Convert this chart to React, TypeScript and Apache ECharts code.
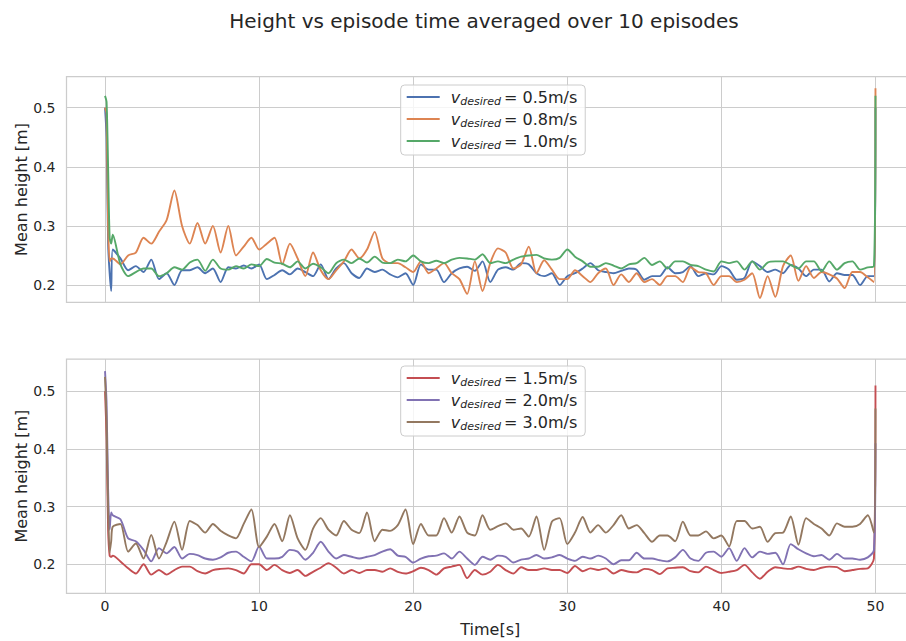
import React, { useEffect, useRef } from "react";
import * as echarts from "echarts";

// ---- time samples (s) ----
const HEAD_T = [0, 0.1, 0.2, 0.3, 0.4];
const BODY_T = Array.from({ length: 99 }, (_, i) => 0.5 + i * 0.5); // 0.5 .. 49.5
const TAIL_T = [49.9, 50];
const TIMES = [...HEAD_T, ...BODY_T, ...TAIL_T];

const X_TICKS = [0, 10, 20, 30, 40, 50];
const Y_TICKS = [0.2, 0.3, 0.4, 0.5];

// ---- top panel ----
const v05 = [
  0.50, 0.45, 0.27, 0.22, 0.19,
  0.26, 0.245, 0.225, 0.232, 0.222, 0.243, 0.21, 0.22, 0.2, 0.225,
  0.225, 0.23, 0.22, 0.228, 0.205, 0.23, 0.228, 0.233, 0.228, 0.235,
  0.21, 0.217, 0.225, 0.218, 0.228, 0.222, 0.215, 0.235, 0.21, 0.228,
  0.237, 0.22, 0.212, 0.228, 0.222, 0.226, 0.218, 0.213, 0.22, 0.2,
  0.235, 0.226, 0.226, 0.205, 0.22, 0.228, 0.231, 0.224, 0.24, 0.205,
  0.226, 0.23, 0.226, 0.237, 0.235, 0.22, 0.215, 0.22, 0.2, 0.215,
  0.22, 0.228, 0.237, 0.225, 0.222, 0.22, 0.224, 0.228, 0.226, 0.209,
  0.215, 0.215, 0.23, 0.22, 0.222, 0.232, 0.215, 0.22, 0.218, 0.232,
  0.226, 0.209, 0.212, 0.24, 0.232, 0.222, 0.226, 0.22, 0.234, 0.228,
  0.215, 0.226, 0.226, 0.206, 0.22, 0.217, 0.217, 0.2, 0.215,
  0.215, 0.50,
];
const v08 = [
  0.50, 0.49, 0.30, 0.24, 0.245,
  0.245, 0.235, 0.25, 0.255, 0.28, 0.27, 0.29, 0.31, 0.36, 0.30,
  0.27, 0.305, 0.27, 0.30, 0.255, 0.30, 0.25, 0.265, 0.28, 0.26,
  0.27, 0.28, 0.235, 0.27, 0.245, 0.215, 0.255, 0.225, 0.21, 0.225,
  0.24, 0.26, 0.245, 0.26, 0.29, 0.245, 0.237, 0.237, 0.23, 0.222,
  0.24, 0.22, 0.228, 0.237, 0.22, 0.21, 0.185, 0.24, 0.19, 0.237,
  0.262, 0.255, 0.228, 0.235, 0.265, 0.22, 0.242, 0.226, 0.21, 0.21,
  0.225, 0.215, 0.205, 0.22, 0.228, 0.2, 0.218, 0.205, 0.22, 0.205,
  0.21, 0.2, 0.215, 0.215, 0.205, 0.23, 0.222, 0.22, 0.2, 0.215,
  0.215, 0.205, 0.209, 0.22, 0.178, 0.215, 0.18, 0.232, 0.25, 0.207,
  0.232, 0.212, 0.222, 0.218, 0.211, 0.195, 0.222, 0.222, 0.213,
  0.205, 0.533,
];
const v10 = [
  0.52, 0.51, 0.40, 0.28, 0.27,
  0.285, 0.235, 0.215, 0.222, 0.228, 0.228, 0.215, 0.22, 0.23, 0.226,
  0.238, 0.243, 0.224, 0.243, 0.228, 0.226, 0.232, 0.228, 0.235, 0.232,
  0.244, 0.238, 0.236, 0.23, 0.24, 0.228, 0.236, 0.23, 0.22, 0.237,
  0.243, 0.237, 0.245, 0.238, 0.248, 0.238, 0.237, 0.243, 0.24, 0.25,
  0.24, 0.237, 0.241, 0.237, 0.243, 0.246, 0.245, 0.243, 0.252, 0.237,
  0.24, 0.237, 0.243, 0.248, 0.25, 0.251, 0.245, 0.243, 0.246, 0.26,
  0.248, 0.24, 0.231, 0.231, 0.237, 0.233, 0.228, 0.235, 0.237, 0.246,
  0.234, 0.24, 0.228, 0.24, 0.24, 0.234, 0.232, 0.226, 0.223, 0.24,
  0.237, 0.24, 0.226, 0.24, 0.226, 0.238, 0.24, 0.24, 0.234, 0.228,
  0.24, 0.24, 0.223, 0.24, 0.226, 0.237, 0.24, 0.226, 0.23,
  0.232, 0.52,
];

// ---- bottom panel ----
const v15 = [
  0.50, 0.42, 0.26, 0.215, 0.213,
  0.215, 0.205, 0.193, 0.184, 0.2, 0.182, 0.19, 0.182, 0.19, 0.196,
  0.196, 0.188, 0.184, 0.19, 0.192, 0.193, 0.19, 0.184, 0.2, 0.2,
  0.19, 0.199, 0.19, 0.185, 0.19, 0.18, 0.187, 0.194, 0.202, 0.194,
  0.184, 0.19, 0.185, 0.19, 0.19, 0.187, 0.193, 0.187, 0.184, 0.188,
  0.194, 0.19, 0.182, 0.193, 0.196, 0.199, 0.176, 0.19, 0.182, 0.187,
  0.199, 0.19, 0.184, 0.195, 0.19, 0.19, 0.193, 0.19, 0.19, 0.185,
  0.197, 0.188, 0.193, 0.19, 0.193, 0.184, 0.19, 0.187, 0.186, 0.192,
  0.19, 0.183, 0.193, 0.194, 0.195, 0.188, 0.186, 0.196, 0.19, 0.185,
  0.187, 0.19, 0.199, 0.186, 0.175, 0.187, 0.195, 0.193, 0.192, 0.196,
  0.192, 0.19, 0.194, 0.196, 0.195, 0.188, 0.19, 0.192, 0.193,
  0.21, 0.51,
];
const v20 = [
  0.535, 0.48, 0.33, 0.26, 0.29,
  0.285, 0.278, 0.245, 0.24, 0.225, 0.205, 0.228, 0.219, 0.23, 0.21,
  0.218, 0.216, 0.21, 0.208, 0.212, 0.22, 0.222, 0.213, 0.205, 0.231,
  0.21, 0.21, 0.213, 0.225, 0.222, 0.208, 0.22, 0.239, 0.222, 0.21,
  0.216, 0.213, 0.21, 0.213, 0.216, 0.222, 0.226, 0.215, 0.213, 0.203,
  0.21, 0.214, 0.215, 0.219, 0.21, 0.222, 0.21, 0.199, 0.213, 0.208,
  0.215, 0.213, 0.203, 0.208, 0.21, 0.216, 0.21, 0.212, 0.216, 0.21,
  0.206, 0.213, 0.21, 0.215, 0.21, 0.2, 0.207, 0.207, 0.22, 0.21,
  0.21, 0.207, 0.205, 0.212, 0.225, 0.21, 0.206, 0.22, 0.222, 0.213,
  0.228, 0.206, 0.228, 0.212, 0.222, 0.218, 0.22, 0.2, 0.235, 0.226,
  0.219, 0.214, 0.216, 0.208, 0.218, 0.21, 0.21, 0.208, 0.212,
  0.225, 0.41,
];
const v30 = [
  0.525, 0.45, 0.30, 0.22, 0.24,
  0.265, 0.27, 0.222, 0.236, 0.21, 0.251, 0.21, 0.239, 0.274, 0.225,
  0.275, 0.268, 0.255, 0.27, 0.258, 0.25, 0.245, 0.27, 0.295, 0.23,
  0.248, 0.27, 0.24, 0.285, 0.245, 0.225, 0.262, 0.28, 0.26, 0.25,
  0.275, 0.26, 0.254, 0.29, 0.24, 0.26, 0.258, 0.268, 0.295, 0.235,
  0.27, 0.25, 0.25, 0.28, 0.255, 0.283, 0.255, 0.25, 0.285, 0.26,
  0.266, 0.271, 0.26, 0.262, 0.248, 0.283, 0.225, 0.274, 0.28, 0.235,
  0.255, 0.282, 0.255, 0.268, 0.255, 0.268, 0.285, 0.262, 0.268, 0.254,
  0.239, 0.25, 0.25, 0.24, 0.274, 0.25, 0.25, 0.257, 0.245, 0.25,
  0.231, 0.275, 0.275, 0.262, 0.265, 0.239, 0.254, 0.255, 0.283, 0.234,
  0.28, 0.27, 0.262, 0.25, 0.271, 0.265, 0.265, 0.27, 0.285,
  0.255, 0.47,
];

const TOP_NAMES = ["0.5m/s", "0.8m/s", "1.0m/s"];
const BOTTOM_NAMES = ["1.5m/s", "2.0m/s", "3.0m/s"];
const TOP_VALUES = [v05, v08, v10];
const BOTTOM_VALUES = [v15, v20, v30];
const TOP_COLORS = ["#4C72B0", "#DD8452", "#55A868"];
const BOTTOM_COLORS = ["#C44E52", "#8172B3", "#937860"];

const TEXT = "#262626";
const GRIDC = "#cccccc";
const FONT = "DejaVu Sans";

const toPairs = (vals: number[]) =>
  TIMES.slice(0, vals.length).map((t, i) => [t, vals[i]]);

export default function App() {
  const ref = useRef<HTMLDivElement>(null);
  useEffect(() => {
    if (!ref.current) return;
    const chart = echarts.init(ref.current, null, { renderer: "svg" });

    const xBase = (gi: number, showLabels: boolean) => ({
      type: "value",
      gridIndex: gi,
      min: -2.5,
      max: 52.5,
      axisLine: { show: false },
      axisTick: { show: false, customValues: X_TICKS },
      axisLabel: {
        show: showLabels,
        customValues: X_TICKS,
        color: TEXT,
        fontSize: 14,
        fontFamily: FONT,
        margin: 6,
      },
      splitLine: { show: true, lineStyle: { color: GRIDC, width: 1 } },
      name: showLabels ? "Time[s]" : "",
      nameLocation: "middle",
      nameGap: 28,
      nameMoveOverlap: false,
      nameTextStyle: { color: TEXT, fontSize: 16, fontFamily: FONT },
    });
    const yBase = (gi: number, min: number, max: number) => ({
      type: "value",
      gridIndex: gi,
      min,
      max,
      axisLine: { show: false },
      axisTick: { show: false, customValues: Y_TICKS },
      axisLabel: {
        customValues: Y_TICKS,
        formatter: (v: number) => v.toFixed(1),
        color: TEXT,
        fontSize: 14,
        fontFamily: FONT,
        margin: 11,
      },
      splitLine: { show: true, lineStyle: { color: GRIDC, width: 1 } },
      name: "Mean height [m]",
      nameLocation: "middle",
      nameGap: 37,
      nameMoveOverlap: false,
      nameTextStyle: { color: TEXT, fontSize: 16, fontFamily: FONT },
    });

    const legendRich = {
      v: { fontStyle: "italic", fontSize: 16, fontFamily: FONT, color: TEXT, lineHeight: 20, padding: [0, 0, 0, 6] },
      s: { fontStyle: "italic", fontSize: 11, fontFamily: FONT, color: TEXT, lineHeight: 11, verticalAlign: "bottom" },
      n: { fontSize: 16, fontFamily: FONT, color: TEXT, lineHeight: 20, padding: [0, 0, 0, 3] },
    };
    const legendBase = (names: string[], top: number) => ({
      data: names,
      orient: "vertical",
      left: 400.7,
      top,
      icon: "rect",
      itemWidth: 33,
      itemHeight: 1.8,
      itemGap: 4,
      padding: [4, 8, 4, 6],
      backgroundColor: "rgba(255,255,255,0.8)",
      borderColor: GRIDC,
      borderWidth: 1,
      borderRadius: 4,
      formatter: (name: string) => `{v|v}{s|desired}{n|= ${name}}`,
      textStyle: { color: TEXT, fontSize: 16, fontFamily: FONT, rich: legendRich },
    });

    const mkSeries = (names: string[], vals: number[][], colors: string[], idx: number) =>
      names.map((n, i) => ({
        type: "line",
        name: n,
        xAxisIndex: idx,
        yAxisIndex: idx,
        data: toPairs(vals[i]),
        showSymbol: false,
        symbol: "none",
        smooth: 0.25,
        color: colors[i],
        lineStyle: { color: colors[i], width: 1.9 },
        z: 3 + i,
      }));

    chart.setOption({
      animation: false,
      backgroundColor: "#ffffff",
      title: {
        text: "Height vs episode time averaged over 10 episodes",
        left: 479,
        top: 6,
        textAlign: "center",
        textStyle: { color: TEXT, fontSize: 20, fontWeight: "normal", fontFamily: FONT },
      },
      grid: [
        { left: 66.5, top: 76.7, width: 847.5, height: 225.6, outerBoundsMode: "none", containLabel: false, show: true, borderColor: GRIDC, borderWidth: 1.25, backgroundColor: "transparent" },
        { left: 66.5, top: 359, width: 847.5, height: 234.3, outerBoundsMode: "none", containLabel: false, show: true, borderColor: GRIDC, borderWidth: 1.25, backgroundColor: "transparent" },
      ],
      xAxis: [xBase(0, false), xBase(1, true)],
      yAxis: [yBase(0, 0.1708, 0.5524), yBase(1, 0.1497, 0.556)],
      legend: [legendBase(TOP_NAMES, 85), legendBase(BOTTOM_NAMES, 366)],
      series: [
        ...mkSeries(TOP_NAMES, TOP_VALUES, TOP_COLORS, 0),
        ...mkSeries(BOTTOM_NAMES, BOTTOM_VALUES, BOTTOM_COLORS, 1),
      ],
    });
    return () => chart.dispose();
  }, []);
  return (
    <div
      ref={ref}
      style={{ position: "fixed", left: 0, top: 0, width: 906, height: 641, background: "#fff" }}
    />
  );
}
